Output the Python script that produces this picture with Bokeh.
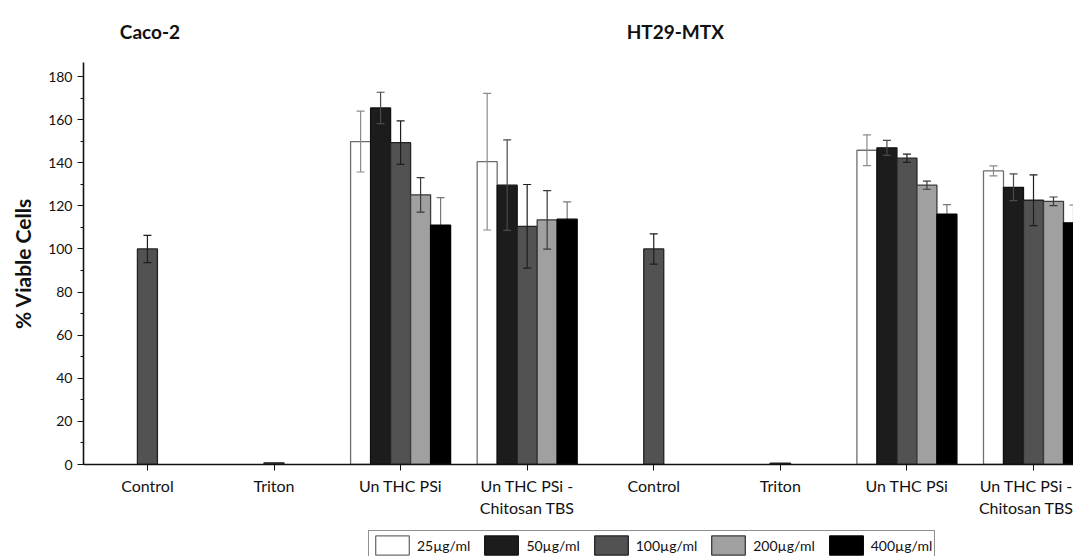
import math
from bokeh.plotting import figure
from bokeh.layouts import column
from bokeh.models import (ColumnDataSource, Whisker, TeeHead, FixedTicker, Legend,
                          LegendItem, Label, Range1d)
from bokeh.transform import dodge
from bokeh.embed import file_html
from bokeh.resources import INLINE

nan = float("nan")

categories = ["Control", "Triton", "Un THC PSi", "Un THC PSi -\nChitosan TBS",
              "Control", "Triton", "Un THC PSi", "Un THC PSi -\nChitosan TBS"]
panel_titles = ["Caco-2", "HT29-MTX"]
panel_title_pos = [0.02, 4.17]
series = ["25µg/ml", "50µg/ml", "100µg/ml", "200µg/ml", "400µg/ml"]

v25 = [nan, nan, 149.8, 140.5, nan, nan, 145.8, 136.2]
e25 = [nan, nan, 14.1, 31.7, nan, nan, 7.1, 2.3]
v50 = [nan, nan, 165.4, 129.6, nan, nan, 146.9, 128.6]
e50 = [nan, nan, 7.3, 21.0, nan, nan, 3.5, 6.2]
v100 = [100.0, 0.8, 149.3, 110.5, 100.0, 0.6, 142.1, 122.6]
e100 = [6.3, nan, 10.1, 19.4, 7.0, nan, 1.9, 11.8]
v200 = [nan, nan, 125.1, 113.5, nan, nan, 129.6, 122.1]
e200 = [nan, nan, 8.0, 13.6, nan, nan, 1.9, 2.0]
v400 = [nan, nan, 111.0, 113.8, nan, nan, 116.1, 112.1]
e400 = [nan, nan, 12.8, 8.0, nan, nan, 4.5, 8.3]

y_ticks = [0, 20, 40, 60, 80, 100, 120, 140, 160, 180]

values = [v25, v50, v100, v200, v400]
errors = [e25, e50, e100, e200, e400]
fills = ["#ffffff", "#1c1c1c", "#525252", "#a0a0a0", "#000000"]
outlines = ["#6e6e6e", "#111111", "#222222", "#3a3a3a", "#000000"]
err_colors = ["#8a8a8a", "#4a4a4a", "#1e1e1e", "#3a3a3a", "#777777"]
err_levels = ["overlay", "overlay", "overlay", "overlay", "underlay"]

FONT = "Lato"
xr = Range1d(-0.505, 7.316)


def bare(height, y_range):
    f = figure(width=1073, height=height, output_backend="svg", toolbar_location=None,
               x_range=xr, y_range=y_range, x_axis_location=None, y_axis_location=None,
               min_border_left=83, min_border_right=0, min_border_top=0,
               min_border_bottom=0)
    f.outline_line_color = None
    f.xgrid.visible = False
    f.ygrid.visible = False
    return f


# title strip
top = bare(62, Range1d(0, 1))
for xpos, t in zip(panel_title_pos, panel_titles):
    top.add_layout(Label(x=xpos, y=0.5, text=t, text_align="center", text_baseline="middle",
                         text_font=FONT, text_font_style="bold", text_font_size="19px",
                         text_color="#111111"))

# main chart
p = figure(width=1073, height=468, output_backend="svg", toolbar_location=None,
           x_range=xr, y_range=Range1d(0, 186.5),
           min_border_left=83, min_border_right=0, min_border_top=0,
           min_border_bottom=66)
p.outline_line_color = None
p.xgrid.visible = False
p.ygrid.visible = False
p.background_fill_color = "white"
p.border_fill_color = "white"

bar_w = 0.158
idx = list(range(len(categories)))
for k in range(5):
    off = (k - 2) * bar_w
    up = [v + e if not math.isnan(e) else nan for v, e in zip(values[k], errors[k])]
    lo = [v - e if not math.isnan(e) else nan for v, e in zip(values[k], errors[k])]
    src = ColumnDataSource(dict(idx=idx, top=values[k], up=up, lo=lo))
    p.vbar(x=dodge("idx", off, range=p.x_range), top="top", bottom=0, width=bar_w,
           source=src, fill_color=fills[k], line_color=outlines[k], line_width=1.3)
    w = Whisker(source=src, base=dodge("idx", off, range=p.x_range), upper="up", lower="lo",
                line_color=err_colors[k], line_width=1.2, level=err_levels[k],
                upper_head=TeeHead(size=8, line_color=err_colors[k], line_width=1.2),
                lower_head=TeeHead(size=8, line_color=err_colors[k], line_width=1.2))
    p.add_layout(w)

p.xaxis.ticker = FixedTicker(ticks=idx)
p.xaxis.major_label_overrides = {i: c for i, c in enumerate(categories)}
p.xaxis.minor_tick_line_color = None
p.xaxis.major_tick_in = 0
p.xaxis.major_tick_out = 6
p.xaxis.axis_line_width = 1.6
p.xaxis.axis_line_color = "#111111"
p.xaxis.major_tick_line_color = "#111111"
p.xaxis.major_label_text_font = FONT
p.xaxis.major_label_text_font_size = "16px"
p.xaxis.major_label_text_color = "#111111"
p.xaxis.major_label_standoff = 5

p.yaxis.ticker = FixedTicker(ticks=y_ticks, minor_ticks=[10, 30, 50, 70, 90, 110, 130, 150, 170])
p.yaxis.major_tick_in = 0
p.yaxis.major_tick_out = 6
p.yaxis.minor_tick_in = 0
p.yaxis.minor_tick_out = 3
p.yaxis.axis_line_width = 1.6
p.yaxis.axis_line_color = "#111111"
p.yaxis.major_tick_line_color = "#111111"
p.yaxis.minor_tick_line_color = "#111111"
p.yaxis.major_label_text_font = FONT
p.yaxis.major_label_text_font_size = "14px"
p.yaxis.major_label_text_color = "#111111"
p.yaxis.axis_label = "% Viable Cells"
p.yaxis.axis_label_text_font = FONT
p.yaxis.axis_label_text_font_style = "bold"
p.yaxis.axis_label_text_font_size = "21px"
p.yaxis.axis_label_text_color = "#111111"
p.yaxis.axis_label_standoff = 10

# legend strip
lg = bare(26, Range1d(0, 1))
items = []
for k in range(5):
    r = lg.vbar(x=[nan], top=[nan], width=0.1, fill_color=fills[k], line_color=outlines[k],
                line_width=1.3)
    items.append(LegendItem(label=series[k], renderers=[r]))
legend = Legend(items=items, orientation="horizontal", location=(285, -4),
                glyph_width=42, glyph_height=24, label_standoff=4, spacing=10,
                padding=2, margin=0, border_line_color="#222222", border_line_width=1,
                label_text_font=FONT, label_text_font_size="14px",
                label_text_color="#111111", background_fill_alpha=1.0)
lg.add_layout(legend)

layout = column(top, p, lg, spacing=0)
open("out.html", "w").write(file_html(layout, INLINE))
